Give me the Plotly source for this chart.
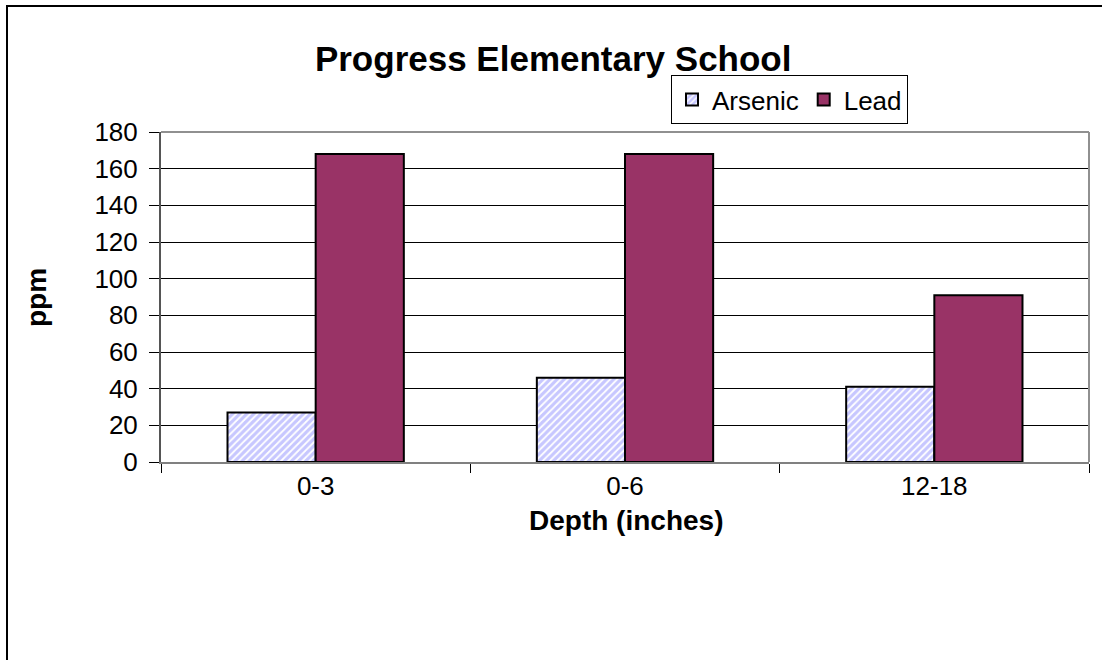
import plotly.graph_objects as go

categories = ["0-3", "0-6", "12-18"]
arsenic = [27, 46, 41]
lead = [168, 168, 91]
y_ticks = [0, 20, 40, 60, 80, 100, 120, 140, 160, 180]

W, H = 1102, 660
L, R, T, B = 161, 1089, 132, 462
pw, ph = R - L, B - T


def px(x):
    return (x - L) / pw


def py(y):
    return (B - y) / ph


font = "Liberation Sans, Arial, sans-serif"

fig = go.Figure()
fig.add_trace(go.Bar(
    name="Arsenic", x=categories, y=arsenic,
    marker=dict(color="white",
                line=dict(color="black", width=2),
                pattern=dict(shape="/", fgcolor="#8F8FFF", bgcolor="white",
                             size=5, solidity=0.65, fillmode="overlay")),
))
fig.add_trace(go.Bar(
    name="Lead", x=categories, y=lead,
    marker=dict(color="#993366", line=dict(color="black", width=2)),
))

fig.update_layout(
    width=W, height=H,
    margin=dict(l=L, r=W - R, t=T, b=H - B, pad=0),
    paper_bgcolor="white", plot_bgcolor="white",
    barmode="group", bargap=0.43, bargroupgap=0,
    font=dict(family=font, size=26, color="black"),
    title=dict(text="<b>Progress Elementary School</b>", x=0.502, xanchor="center",
               y=1 - 59 / H, yanchor="middle", yref="container",
               font=dict(size=35, family=font, color="black")),
    legend=dict(orientation="h", x=px(671), y=py(75), xanchor="left", yanchor="top",
                bordercolor="black", borderwidth=1, bgcolor="white",
                font=dict(size=26, family=font), itemwidth=30,
                traceorder="normal"),
    showlegend=True,
)

fig.update_xaxes(
    type="category", showgrid=False, showline=True, linecolor="#808080", linewidth=2,
    ticks="outside", tickson="boundaries", ticklen=9, tickcolor="black", tickwidth=1,
    tickfont=dict(size=26, family=font),
    mirror=False,
)
fig.update_yaxes(
    range=[0, 180], tickvals=y_ticks, showgrid=True, gridcolor="black", gridwidth=1,
    showline=True, linecolor="#555555", linewidth=2,
    ticks="outside", ticklen=10, tickcolor="black", tickwidth=1,
    tickfont=dict(size=26, family=font), ticklabelstandoff=6,
    zeroline=False,
)

# axis titles
fig.add_annotation(text="<b>Depth (inches)</b>", xref="paper", yref="paper",
                   x=px(626), y=py(520), xanchor="center", yanchor="middle",
                   showarrow=False, font=dict(size=28, family=font, color="black"))
fig.add_annotation(text="<b>ppm</b>", xref="paper", yref="paper",
                   x=px(36), y=py(297), xanchor="center", yanchor="middle",
                   textangle=-90, showarrow=False,
                   font=dict(size=28, family=font, color="black"))

# plot area top and right border (gray)
fig.add_shape(type="line", xref="paper", yref="paper", x0=0, x1=1, y0=1, y1=1,
              line=dict(color="#909090", width=2))
fig.add_shape(type="line", xref="paper", yref="paper", x0=1, x1=1, y0=0, y1=1,
              line=dict(color="#909090", width=2))
# outer chart border
fig.add_shape(type="rect", xref="paper", yref="paper",
              x0=px(7), x1=px(1110), y0=py(670), y1=py(6),
              line=dict(color="black", width=2), layer="below")

fig.write_html("out.html", config={"displayModeBar": False},
               post_script="document.body.style.margin='0px';")
